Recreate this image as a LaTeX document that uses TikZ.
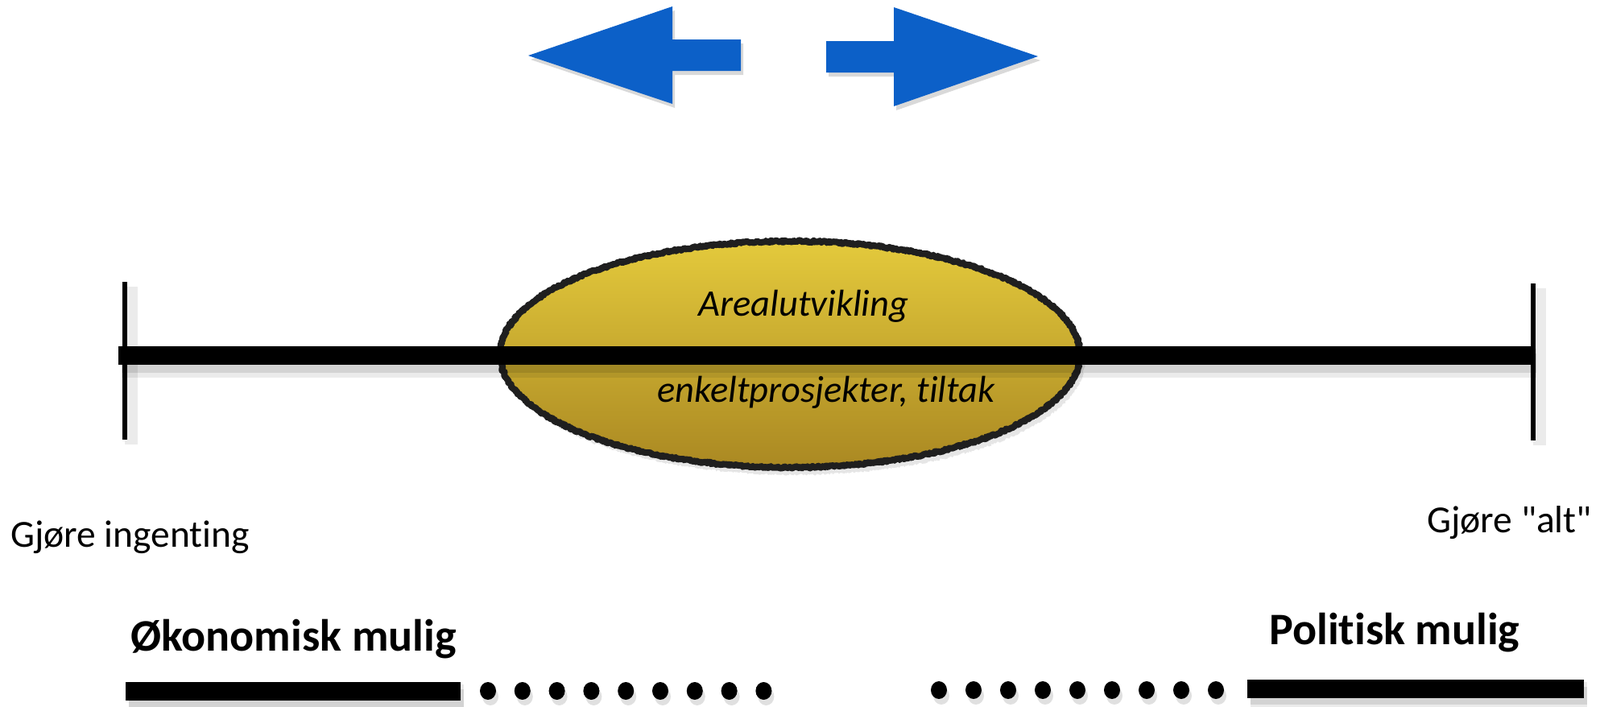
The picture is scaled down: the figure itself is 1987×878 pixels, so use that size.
\documentclass[tikz,border=0pt]{standalone}
\usepackage{fontspec}
\setmainfont{Carlito}[Ligatures={TeX,NoCommon}]
\usepackage{xcolor}
\usepackage{tikz}
\usetikzlibrary{shapes.geometric,shadows,decorations.pathmorphing,positioning,calc}
\definecolor{arrowblue}{RGB}{12,96,200}
\definecolor{goldtop}{RGB}{228,202,60}
\definecolor{goldbot}{RGB}{170,136,34}

\begin{document}
\begin{tikzpicture}[
    x=1pt, y=-1pt,
    axisline/.style={line width=23pt, black, preaction={draw=black, opacity=0.08, line width=36pt, transform canvas={shift={(4pt,-10pt)}}}, preaction={draw=black, opacity=0.1, line width=24pt, transform canvas={shift={(4pt,-10pt)}}}},
    endmark/.style={line width=6pt, black, preaction={draw=black, opacity=0.08, line width=16pt, transform canvas={shift={(8pt,-6pt)}}}},
    barline/.style={line width=23pt, black, preaction={draw=black, opacity=0.08, line width=34pt, transform canvas={shift={(4pt,-9pt)}}}, preaction={draw=black, opacity=0.1, line width=22pt, transform canvas={shift={(4pt,-9pt)}}}},
    bluearrow/.style={fill=arrowblue, drop shadow={opacity=0.3, shadow xshift=3pt, shadow yshift=-5pt}},
    zone/.style={ellipse, minimum width=720pt, minimum height=281pt, inner sep=0pt, draw=black!88, line width=8pt, line join=round, top color=goldtop, bottom color=goldbot, decorate, decoration={random steps, segment length=1.5pt, amplitude=1.2pt}, drop shadow={opacity=0.2, shadow xshift=6pt, shadow yshift=-9pt}},
    ovaltext/.style={inner sep=0pt, anchor=base, font=\fontsize{46.5}{56}\selectfont\itshape},
    endlabel/.style={inner sep=0pt, font=\fontsize{47.5}{57}\selectfont},
    headlabel/.style={inner sep=0pt, anchor=base west, font=\fontsize{56}{67}\selectfont\bfseries},
    chain/.style={fill=black, preaction={fill=black, opacity=0.12, transform canvas={shift={(3pt,-7pt)}}}}
]
    \useasboundingbox (0,0) rectangle (1987,878);

    % blue arrows
    \fill[bluearrow] (656,69) -- (835,8) -- (835,49) -- (920,49) -- (920,88) -- (835,88) -- (835,129) -- cycle;
    \fill[bluearrow] (1289,70) -- (1110,9) -- (1110,51) -- (1026,51) -- (1026,90) -- (1110,90) -- (1110,132) -- cycle;

    % oval
    \node[zone] (area) at (981,440) {};

    % scale line
    \coordinate (lo) at (147,441);
    \coordinate (hi) at (1904,441);
    \coordinate (lotop) at (155,350);
    \coordinate (lobot) at (155,546);
    \coordinate (hitop) at (1904,352);
    \coordinate (hibot) at (1904,547);
    \draw[axisline] (lo) -- (hi);
    \draw[endmark] (lotop) -- (lobot);
    \draw[endmark] (hitop) -- (hibot);

    \node[ovaltext] (areal) at (998,392) {Arealutvikling};
    \node[ovaltext] (enkelt) at (1026,499) {enkeltprosjekter, tiltak};

    \node[endlabel, anchor=base west] (nothing) at (13,679) {Gjøre ingenting};
    \node[endlabel, anchor=base east] (all) at (1977,661) {Gjøre \textquotedbl alt\textquotedbl};

    % bottom bars
    \node[headlabel] (econ) at (162,808) {Økonomisk mulig};
    \node[headlabel] (polit) at (1576,800) {Politisk mulig};
    \coordinate (econa) at (156,858);
    \coordinate (econb) at (572,858);
    \coordinate (polita) at (1549,855);
    \coordinate (politb) at (1967,855);
    \draw[barline] (econa) -- (econb);
    \draw[barline] (polita) -- (politb);
    \foreach \i in {0,...,8} {
        \fill[chain] (606+42.8*\i,858) ellipse [x radius=10, y radius=11];
        \fill[chain] (1166+43*\i,857) ellipse [x radius=10, y radius=11];
    }
\end{tikzpicture}
\end{document}
